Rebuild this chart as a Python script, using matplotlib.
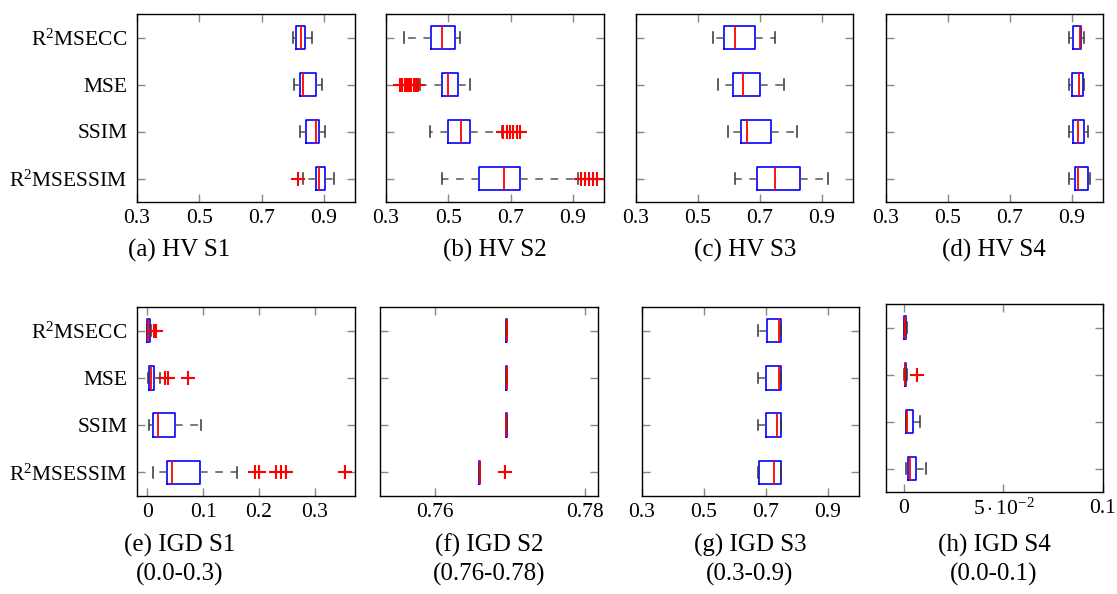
import matplotlib
matplotlib.use("Agg")
import matplotlib.pyplot as plt

plt.rcParams["font.family"] = ["Liberation Serif", "DejaVu Serif"]
plt.rcParams["mathtext.fontset"] = "custom"
plt.rcParams["mathtext.rm"] = "Liberation Serif"
plt.rcParams["mathtext.it"] = "Liberation Serif:italic"
plt.rcParams["font.size"] = 15

# methods, top to bottom
methods = ["R$^2$MSECC", "MSE", "SSIM", "R$^2$MSESSIM"]

# ---- HV S1 ----
hv_s1_lo = [0.800, 0.804, 0.823, 0.832]
hv_s1_q1 = [0.812, 0.823, 0.843, 0.874]
hv_s1_med = [0.826, 0.834, 0.874, 0.883]
hv_s1_q3 = [0.839, 0.875, 0.885, 0.904]
hv_s1_hi = [0.863, 0.893, 0.904, 0.931]
hv_s1_out = [[], [], [], [0.818]]

# ---- HV S2 ----
hv_s2_lo = [0.358, 0.410, 0.441, 0.480]
hv_s2_q1 = [0.445, 0.480, 0.500, 0.599]
hv_s2_med = [0.480, 0.500, 0.540, 0.680]
hv_s2_q3 = [0.521, 0.530, 0.570, 0.731]
hv_s2_hi = [0.538, 0.569, 0.671, 0.918]
hv_s2_out = [[],
             [0.344, 0.352, 0.360, 0.367, 0.374, 0.381, 0.389, 0.397, 0.404],
             [0.677, 0.687, 0.698, 0.709, 0.720, 0.730],
             [0.927, 0.940, 0.953, 0.966, 0.979]]

# ---- HV S3 ----
hv_s3_lo = [0.549, 0.566, 0.597, 0.618]
hv_s3_q1 = [0.584, 0.614, 0.639, 0.689]
hv_s3_med = [0.618, 0.644, 0.659, 0.749]
hv_s3_q3 = [0.685, 0.701, 0.736, 0.829]
hv_s3_hi = [0.747, 0.778, 0.820, 0.919]
hv_s3_out = [[], [], [], []]

# ---- HV S4 ----
hv_s4_lo = [0.889, 0.889, 0.889, 0.889]
hv_s4_q1 = [0.903, 0.899, 0.903, 0.909]
hv_s4_med = [0.926, 0.923, 0.918, 0.918]
hv_s4_q3 = [0.930, 0.936, 0.940, 0.950]
hv_s4_hi = [0.940, 0.940, 0.950, 0.959]
hv_s4_out = [[], [], [], []]

# ---- IGD S1 ----
igd_s1_lo = [0.000, 0.0012, 0.0036, 0.0102]
igd_s1_q1 = [0.000, 0.0030, 0.0102, 0.0353]
igd_s1_med = [0.0015, 0.0066, 0.0190, 0.0449]
igd_s1_q3 = [0.0040, 0.0114, 0.0497, 0.0940]
igd_s1_hi = [0.0066, 0.0234, 0.0952, 0.1600]
igd_s1_out = [[0.0126, 0.0150],
              [0.032, 0.037, 0.0725],
              [],
              [0.192, 0.200, 0.231, 0.239, 0.249, 0.354]]

# ---- IGD S2 ----
igd_s2_lo = [0.76955, 0.76955, 0.76950, 0.76595]
igd_s2_q1 = [0.76955, 0.76955, 0.76950, 0.76595]
igd_s2_med = [0.76960, 0.76960, 0.76955, 0.76600]
igd_s2_q3 = [0.76965, 0.76960, 0.76965, 0.76605]
igd_s2_hi = [0.76965, 0.76960, 0.76965, 0.76605]
igd_s2_out = [[], [], [], [0.76940]]

# ---- IGD S3 ----
igd_s3_lo = [0.674, 0.674, 0.674, 0.674]
igd_s3_q1 = [0.702, 0.700, 0.700, 0.676]
igd_s3_med = [0.741, 0.741, 0.737, 0.726]
igd_s3_q3 = [0.749, 0.749, 0.749, 0.748]
igd_s3_hi = [0.749, 0.749, 0.749, 0.748]
igd_s3_out = [[], [], [], []]

# ---- IGD S4 ----
igd_s4_lo = [0.0000, 0.0002, 0.0010, 0.0010]
igd_s4_q1 = [0.0000, 0.0003, 0.0012, 0.0020]
igd_s4_med = [0.0003, 0.0007, 0.0015, 0.0032]
igd_s4_q3 = [0.0008, 0.0012, 0.0045, 0.0060]
igd_s4_hi = [0.0013, 0.0015, 0.0082, 0.0112]
igd_s4_out = [[], [0.0065], [], []]

captions = ["(a) HV S1", "(b) HV S2", "(c) HV S3", "(d) HV S4",
            "(e) IGD S1\n(0.0-0.3)", "(f) IGD S2\n(0.76-0.78)",
            "(g) IGD S3\n(0.3-0.9)", "(h) IGD S4\n(0.0-0.1)"]

panels = [
    (hv_s1_lo, hv_s1_q1, hv_s1_med, hv_s1_q3, hv_s1_hi, hv_s1_out),
    (hv_s2_lo, hv_s2_q1, hv_s2_med, hv_s2_q3, hv_s2_hi, hv_s2_out),
    (hv_s3_lo, hv_s3_q1, hv_s3_med, hv_s3_q3, hv_s3_hi, hv_s3_out),
    (hv_s4_lo, hv_s4_q1, hv_s4_med, hv_s4_q3, hv_s4_hi, hv_s4_out),
    (igd_s1_lo, igd_s1_q1, igd_s1_med, igd_s1_q3, igd_s1_hi, igd_s1_out),
    (igd_s2_lo, igd_s2_q1, igd_s2_med, igd_s2_q3, igd_s2_hi, igd_s2_out),
    (igd_s3_lo, igd_s3_q1, igd_s3_med, igd_s3_q3, igd_s3_hi, igd_s3_out),
    (igd_s4_lo, igd_s4_q1, igd_s4_med, igd_s4_q3, igd_s4_hi, igd_s4_out),
]

W, H = 1117, 594
# axes boxes in pixels: left, right, top, bottom
boxes_px = [
    (137, 355, 14, 202), (386, 604, 14, 202), (636, 853, 14, 202), (886, 1103, 14, 202),
    (137, 355, 307, 496), (380, 598, 307, 496), (642, 859, 307, 496), (886, 1103, 304, 492),
]
xlims = [(0.3, 1.0)] * 4 + [(-0.0186, 0.372), (0.7527, 0.7818), (0.3, 1.0), (-0.009, 0.1)]
xticks = [[0.3, 0.5, 0.7, 0.9]] * 4 + [[0, 0.1, 0.2, 0.3], [0.76, 0.78],
                                       [0.3, 0.5, 0.7, 0.9], [0, 0.05, 0.1]]
xticklabels = [["0.3", "0.5", "0.7", "0.9"]] * 4 + [["0", "0.1", "0.2", "0.3"],
                                                   ["0.76", "0.78"],
                                                   ["0.3", "0.5", "0.7", "0.9"],
                                                   ["0", r"$5\cdot10^{-2}$", "0.1"]]
caption_x = [179, 495, 745, 994, 180, 489, 750, 994]

fig = plt.figure(figsize=(W / 100, H / 100), dpi=100)

positions = [4, 3, 2, 1]
for i, (lo, q1, med, q3, hi, out) in enumerate(panels):
    l, r, t, b = boxes_px[i]
    ax = fig.add_axes([l / W, 1 - b / H, (r - l) / W, (b - t) / H])
    stats = []
    for k in range(4):
        stats.append(dict(whislo=lo[k], q1=q1[k], med=med[k], q3=q3[k],
                          whishi=hi[k], fliers=out[k]))
    ax.bxp(stats, positions=positions, vert=False, widths=0.5, capwidths=0.22,
           boxprops=dict(color="#0000ff", linewidth=1.2),
           medianprops=dict(color="#ff0000", linewidth=1.3),
           whiskerprops=dict(color="#555555", linewidth=1.1, linestyle=(0, (5, 5))),
           capprops=dict(color="#333333", linewidth=1.1),
           flierprops=dict(marker="+", markeredgecolor="#ff0000", markersize=10,
                           markeredgewidth=1.5, linestyle="none"))
    ax.set_xlim(*xlims[i])
    ax.set_ylim(0.5, 4.5)
    ax.set_xticks(xticks[i])
    ax.set_xticklabels(xticklabels[i])
    ax.set_yticks(positions)
    if i % 4 == 0:
        ax.set_yticklabels(methods)
    else:
        ax.set_yticklabels([])
    ax.tick_params(direction="in", length=6, width=1, color="#888888",
                   top=True, right=True, labelsize=15.5)
    ax.tick_params(axis="x", pad=5)
    ax.tick_params(axis="y", pad=7)
    for s in ax.spines.values():
        s.set_linewidth(1.0)
        s.set_color("black")

    cy = 250 if i < 4 else 560
    fig.text(caption_x[i] / W, 1 - cy / H, captions[i], ha="center", va="center",
             fontsize=18, linespacing=1.35)

fig.savefig("out.png", dpi=100)
